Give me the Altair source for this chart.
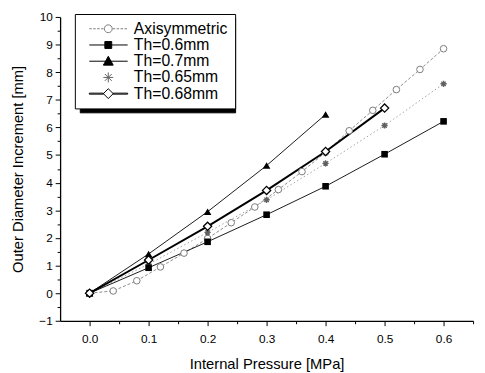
import altair as alt
import pandas as pd

# ---------------- data ----------------
series_names = ["Axisymmetric", "Th=0.6mm", "Th=0.7mm", "Th=0.65mm", "Th=0.68mm"]

pressure = [0.0, 0.1, 0.2, 0.3, 0.4, 0.5, 0.6]
th_060 = [0.0, 0.92, 1.86, 2.84, 3.87, 5.03, 6.22]
th_070 = [0.0, 1.42, 2.95, 4.62, 6.47]
th_065 = [0.0, 1.05, 2.20, 3.38, 4.70, 6.07, 7.58]
th_068 = [0.0, 1.20, 2.42, 3.72, 5.13, 6.70]

axi_pressure = [0.0, 0.04, 0.08, 0.12, 0.16, 0.20, 0.24, 0.28,
                0.32, 0.36, 0.40, 0.44, 0.48, 0.52, 0.56, 0.60]
axi_values = [0.0, 0.08, 0.45, 0.95, 1.45, 1.98, 2.55, 3.12,
              3.75, 4.40, 5.10, 5.88, 6.62, 7.37, 8.10, 8.85]

x_major = [0.0, 0.1, 0.2, 0.3, 0.4, 0.5, 0.6]
x_minor = [0.05, 0.15, 0.25, 0.35, 0.45, 0.55, 0.65]
y_major = [-1, 0, 1, 2, 3, 4, 5, 6, 7, 8, 9, 10]
y_minor = [-0.5, 0.5, 1.5, 2.5, 3.5, 4.5, 5.5, 6.5, 7.5, 8.5, 9.5]

shadow_keys = ["s:" + n for n in series_names]

rows = []
for name, xs, ys in [
    ("Axisymmetric", axi_pressure, axi_values),
    ("Th=0.6mm", pressure, th_060),
    ("Th=0.7mm", pressure[:len(th_070)], th_070),
    ("Th=0.65mm", pressure, th_065),
    ("Th=0.68mm", pressure[:len(th_068)], th_068),
]:
    for xv, yv in zip(xs, ys):
        rows.append({"series": name, "series2": "s:" + name, "p": xv, "d": yv})
df = pd.DataFrame(rows)

FONT = "Liberation Sans"
xscale = alt.Scale(domain=[-0.05, 0.65], nice=False, zero=False)
yscale = alt.Scale(domain=[-1, 10], nice=False, zero=False)

base = alt.Chart(df)


def enc(chart, xaxis=None, yaxis=None):
    return chart.encode(
        x=alt.X("p:Q", scale=xscale, axis=xaxis),
        y=alt.Y("d:Q", scale=yscale, axis=yaxis),
        order="p:Q",
    )


def only(name):
    return alt.datum.series == name


major_x_axis = alt.Axis(values=x_major, format=".1f", title="Internal Pressure [MPa]",
                        grid=False, tickSize=5, labelPadding=8, titlePadding=13,
                        orient="bottom")
major_y_axis = alt.Axis(values=y_major, format="d", title="Outer Diameter Increment [mm]",
                        grid=False, tickSize=5, labelPadding=3, titlePadding=14,
                        orient="left")
minor_x_axis = alt.Axis(values=x_minor, labels=False, title=None, grid=False,
                        tickSize=3, domain=False, orient="bottom")
minor_y_axis = alt.Axis(values=y_minor, labels=False, title=None, grid=False,
                        tickSize=3, domain=False, orient="left")

# ---------------- lines ----------------
axi_line = enc(base.transform_filter(only("Axisymmetric")).mark_line(
    color="#8c8c8c", strokeWidth=1, strokeDash=[3, 2]), major_x_axis, major_y_axis)
l065 = enc(base.transform_filter(only("Th=0.65mm")).mark_line(
    color="#a0a0a0", strokeWidth=1, strokeDash=[1.5, 2.5]))
l060 = enc(base.transform_filter(only("Th=0.6mm")).mark_line(
    color="black", strokeWidth=0.9))
l070 = enc(base.transform_filter(only("Th=0.7mm")).mark_line(
    color="black", strokeWidth=0.9))
l068 = enc(base.transform_filter(only("Th=0.68mm")).mark_line(
    color="black", strokeWidth=2))

# ---------------- markers ----------------
asterisk = "M-1,0H1M0,-1V1M-0.7,-0.7L0.7,0.7M-0.7,0.7L0.7,-0.7"
p_axi = enc(base.transform_filter(only("Axisymmetric")).mark_point(
    shape="circle", size=45, filled=False, fill="white", fillOpacity=1,
    stroke="#7a7a7a", strokeWidth=1, opacity=1))
p065 = enc(base.transform_filter(only("Th=0.65mm")).mark_point(
    shape=asterisk, size=40, filled=False, stroke="#606060", strokeWidth=1.4, opacity=1))
p060 = enc(base.transform_filter(only("Th=0.6mm")).mark_point(
    shape="square", size=45, filled=True, color="black", opacity=1))
p070 = enc(base.transform_filter(only("Th=0.7mm")).mark_point(
    shape="triangle-up", size=60, filled=True, color="black", opacity=1))
p068 = enc(base.transform_filter(only("Th=0.68mm")).mark_point(
    shape="diamond", size=70, filled=False, fill="white", fillOpacity=1,
    stroke="black", strokeWidth=1.3, opacity=1))

# ---------------- legend (native, custom symbols) ----------------
a, b, m = -0.06, 7.74, 3.8
dashes = ""
xx = a
while xx + 0.5 <= m - 0.8:
    dashes += f"M{xx:.2f},0H{xx + 0.5:.2f}"
    xx += 0.8
xx = m + 0.9
while xx + 0.5 <= b:
    dashes += f"M{xx:.2f},0H{xx + 0.5:.2f}"
    xx += 0.8
path_axi = dashes + f"M{m + 0.8},0A0.8,0.8,0,1,1,{m - 0.8},0A0.8,0.8,0,1,1,{m + 0.8},0Z"
path_060 = f"M{a},0H{b}M{m - 0.7},-0.7H{m + 0.7}V0.7H{m - 0.7}Z"
path_070 = f"M{a},0H{b}M{m},-1L{m + 1},0.8H{m - 1}Z"
path_065 = (f"M{m - 1},0H{m + 1}M{m},-1V1M{m - 0.7},-0.7L{m + 0.7},0.7"
            f"M{m - 0.7},0.7L{m + 0.7},-0.7")
path_068 = (f"M{a},-0.1H{m - 1}V0.1H{a}ZM{m + 1},-0.1H{b}V0.1H{m + 1}Z"
            f"M{m},-1L{m + 1},0L{m},1L{m - 1},0Z")

LEG_COMMON = dict(title=None, orient="none", padding=7, symbolSize=100,
                  symbolStrokeWidth=1, labelFontSize=16, rowPadding=0.5,
                  labelFont=FONT)

leg = alt.Legend(legendX=15, legendY=-3, strokeColor="black", fillColor="white",
                 labelColor="black", labelOffset=37, zindex=2, **LEG_COMMON)

# same-size all-black box placed slightly lower-right: the legend's drop shadow
# (labels are blank spaces, the extra offset stands in for the label width)
shadow_leg = alt.Legend(legendX=20, legendY=1, strokeColor="black", fillColor="black",
                        labelColor="black", symbolFillColor="black",
                        symbolStrokeColor="black", zindex=1, labelOffset=127.6,
                        labelExpr="' '", **LEG_COMMON)

legend_layer = base.transform_filter("false").mark_point(filled=True, opacity=1).encode(
    x=alt.X("p:Q", scale=xscale, axis=minor_x_axis),
    y=alt.Y("d:Q", scale=yscale, axis=minor_y_axis),
    shape=alt.Shape("series:N", scale=alt.Scale(
        domain=series_names, range=[path_axi, path_060, path_070, path_065, path_068]),
        legend=leg),
    fill=alt.Fill("series:N", scale=alt.Scale(
        domain=series_names, range=["white", "black", "black", "#606060", "white"]),
        legend=leg),
    stroke=alt.Stroke("series:N", scale=alt.Scale(
        domain=series_names, range=["#7a7a7a", "black", "black", "#606060", "black"]),
        legend=leg),
)

shadow_layer = base.transform_filter("false").mark_point(
    filled=True, opacity=1, color="black").encode(
    x=alt.X("p:Q", scale=xscale, axis=None),
    y=alt.Y("d:Q", scale=yscale, axis=None),
    strokeDash=alt.StrokeDash("series2:N", scale=alt.Scale(domain=shadow_keys),
                              legend=shadow_leg),
)

chart = alt.layer(
    axi_line, l065, l060, l070, l068,
    p_axi, p065, p060, p070, p068,
    shadow_layer, legend_layer,
).resolve_axis(x="independent", y="independent").properties(
    width=420, height=309,
    autosize=alt.AutoSizeParams(type="none"),
    padding={"left": 53, "top": 6, "right": 4, "bottom": 50},
).configure_view(stroke=None).configure_axis(
    labelFont=FONT, titleFont=FONT, labelFontSize=12, titleFontSize=15,
    labelColor="black", titleColor="black", domainColor="black",
    tickColor="black", domainWidth=1.3, tickWidth=1, titleFontWeight="normal",
)

chart.save("out.html", embed_options={"renderer": "svg", "actions": False})
